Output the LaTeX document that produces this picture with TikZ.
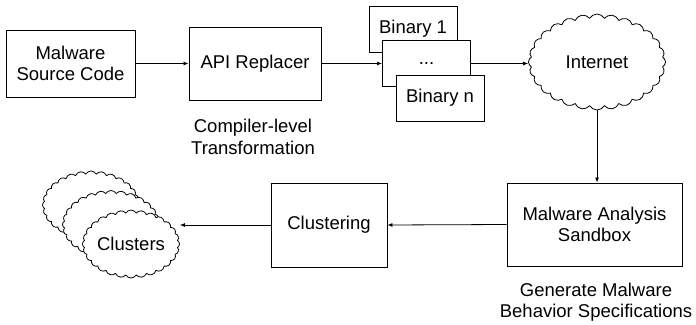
\documentclass[tikz,border=0pt]{standalone}
\usepackage{fontspec}
\setmainfont{Liberation Sans}
\usetikzlibrary{shapes.symbols,arrows.meta}
\begin{document}
\begin{tikzpicture}[x=1pt,y=-1pt]
		\tikzstyle{box}=[draw,fill=white,line width=0.9pt,align=center,inner sep=0pt,font=\fontsize{18.5}{21.5}\selectfont]
		\tikzstyle{puff}=[draw,fill=white,cloud,cloud puffs=28,cloud puff arc=120,cloud ignores aspect,line width=0.8pt,inner sep=0pt,font=\fontsize{18.5}{21.5}\selectfont]
		\tikzstyle{lbl}=[align=center,font=\fontsize{18.5}{21.5}\selectfont]
		\tikzstyle{conn}=[line width=0.8pt,-{Latex[length=5pt,width=4pt]}]
		\useasboundingbox (0,0) rectangle (696,324);

		\node[box,minimum width=129,minimum height=67] (src) at (70.5,63.5) {Malware\\Source Code};
		\node[box,minimum width=132,minimum height=73] (api) at (255,63.5) {API Replacer};
		\node[lbl] (comp) at (253,137) {Compiler-level\\Transformation};

		\begin{scope}[every node/.style={box,minimum width=88,minimum height=46}]
			\node (bin1) at (413,29) {Binary 1};
			\node (mid) at (426.5,63.5) {...};
			\node (binn) at (440,98) {Binary n};
		\end{scope}

		\node[puff,minimum width=137,minimum height=96] (net) at (597,62) {Internet};

		\node[box,minimum width=175,minimum height=83] (sandbox) at (594.5,224.5) {Malware Analysis\\Sandbox};
		\node[lbl] (gen) at (596,302) {Generate Malware\\Behavior Specifications};
		\node[box,minimum width=116,minimum height=84] (clust) at (329,225) {Clustering};

		\node[puff,minimum width=97,minimum height=68] (c1) at (91,205) {};
		\node[puff,minimum width=97,minimum height=68] (c2) at (111,224.5) {};
		\node[puff,minimum width=97,minimum height=68] (c3) at (131,244) {Clusters};

		\draw[conn] (src) -- (api);
		\draw[conn] (api) -- (mid);
		\draw[conn] (mid.east) -- (mid.east -| net.west);
		\draw[conn] (net.south) -- (net.south |- sandbox.north);
		\draw[conn] (sandbox.west) -- (clust.east);
		\draw[conn] (clust.west) -- (clust.west -| c3.east);
	\end{tikzpicture}
\end{document}
